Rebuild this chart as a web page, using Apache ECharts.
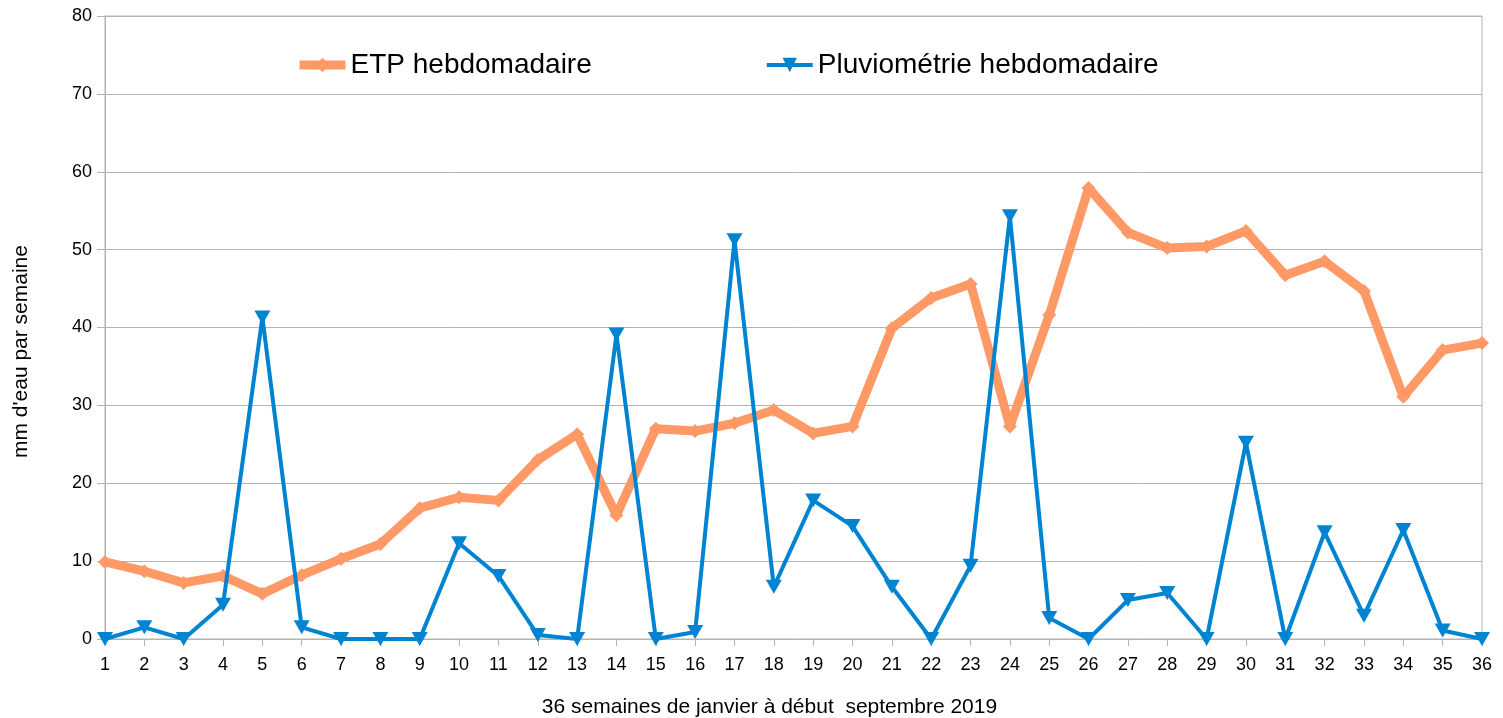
<!DOCTYPE html>
<html>
<head>
<meta charset="utf-8">
<script src="https://cdn.jsdelivr.net/npm/echarts@6/dist/echarts.min.js"></script>
<style>
  html, body { margin: 0; padding: 0; background: #fff; }
  #chart { width: 1503px; height: 718px; }
</style>
</head>
<body>
<div id="chart"></div>
<script>
// semaines 1..36
const semaines = Array.from({ length: 36 }, (_, i) => String(i + 1));
const yTicks = [0, 10, 20, 30, 40, 50, 60, 70, 80];

// ETP hebdomadaire (mm)
const etp = [9.9, 8.7, 7.2, 8.1, 5.8, 8.2, 10.3, 12.2, 16.8, 18.2, 17.8, 23.0,
  26.3, 15.9, 27.0, 26.7, 27.7, 29.4, 26.4, 27.3, 39.9, 43.8, 45.6, 27.3,
  41.6, 57.9, 52.2, 50.2, 50.4, 52.4, 46.7, 48.5, 44.7, 31.1, 37.1, 38.0];

// Pluviométrie hebdomadaire (mm)
const pluie = [0, 1.5, 0, 4.4, 41.3, 1.5, 0, 0, 0, 12.3, 8.1, 0.5,
  0, 39.1, 0, 0.9, 51.2, 6.7, 17.8, 14.5, 6.7, 0, 9.4, 54.3,
  2.7, 0, 5.0, 5.9, 0, 25.2, 0, 13.7, 3.0, 14.0, 1.1, 0];

const font = "'Liberation Sans', Arial, sans-serif";
const gris = "#b3b3b3";
const orange = "#ff9966";
const bleu = "#0084d1";

const chart = echarts.init(document.getElementById("chart"));
const option = {
  animation: false,
  backgroundColor: "#fff",
  textStyle: { fontFamily: font, color: "#000" },
  grid: {
    left: 105, right: 21, top: 16, bottom: 79,
    containLabel: false,
    outerBoundsMode: "none",
    show: true, borderColor: gris, borderWidth: 1
  },
  legend: {
    left: 290, top: 46,
    itemWidth: 46, itemHeight: 18, itemGap: 173,
    textStyle: { fontFamily: font, fontSize: 28, color: "#000" },
    data: [
      { name: "ETP hebdomadaire", lineStyle: { width: 9, color: orange } },
      { name: "Pluviométrie hebdomadaire", lineStyle: { width: 4, color: bleu } }
    ]
  },
  xAxis: {
    type: "category",
    data: semaines,
    boundaryGap: false,
    name: "36 semaines de janvier à début  septembre 2019",
    nameLocation: "middle",
    nameGap: 58,
    nameTextStyle: { fontFamily: font, fontSize: 21, color: "#000", padding: [0, 48, 0, 0] },
    axisLine: { lineStyle: { color: gris } },
    axisTick: { show: true, length: 7, lineStyle: { color: gris } },
    axisLabel: { fontFamily: font, fontSize: 18, color: "#000", margin: 17, interval: 0 },
    splitLine: { show: false }
  },
  yAxis: {
    type: "value",
    min: yTicks[0], max: yTicks[yTicks.length - 1], interval: 10,
    name: "mm d'eau par semaine",
    nameLocation: "middle",
    nameGap: 73,
    nameTextStyle: { fontFamily: font, fontSize: 21, color: "#000", padding: [0, 48, 0, 0] },
    axisLine: { show: true, lineStyle: { color: gris } },
    axisTick: { show: true, length: 8, lineStyle: { color: gris } },
    axisLabel: { fontFamily: font, fontSize: 18, color: "#000", margin: 13 },
    splitLine: { lineStyle: { color: gris, width: 1 } }
  },
  series: [
    {
      name: "ETP hebdomadaire",
      type: "line",
      data: etp,
      symbol: "diamond",
      symbolSize: 14,
      showAllSymbol: true,
      itemStyle: { color: orange },
      lineStyle: { color: orange, width: 9 },
      z: 2
    },
    {
      name: "Pluviométrie hebdomadaire",
      type: "line",
      data: pluie,
      symbol: "triangle",
      symbolRotate: 180,
      symbolSize: [16, 14],
      showAllSymbol: true,
      itemStyle: { color: bleu },
      lineStyle: { color: bleu, width: 4 },
      z: 3
    }
  ]
};
chart.setOption(option);
</script>
</body>
</html>
